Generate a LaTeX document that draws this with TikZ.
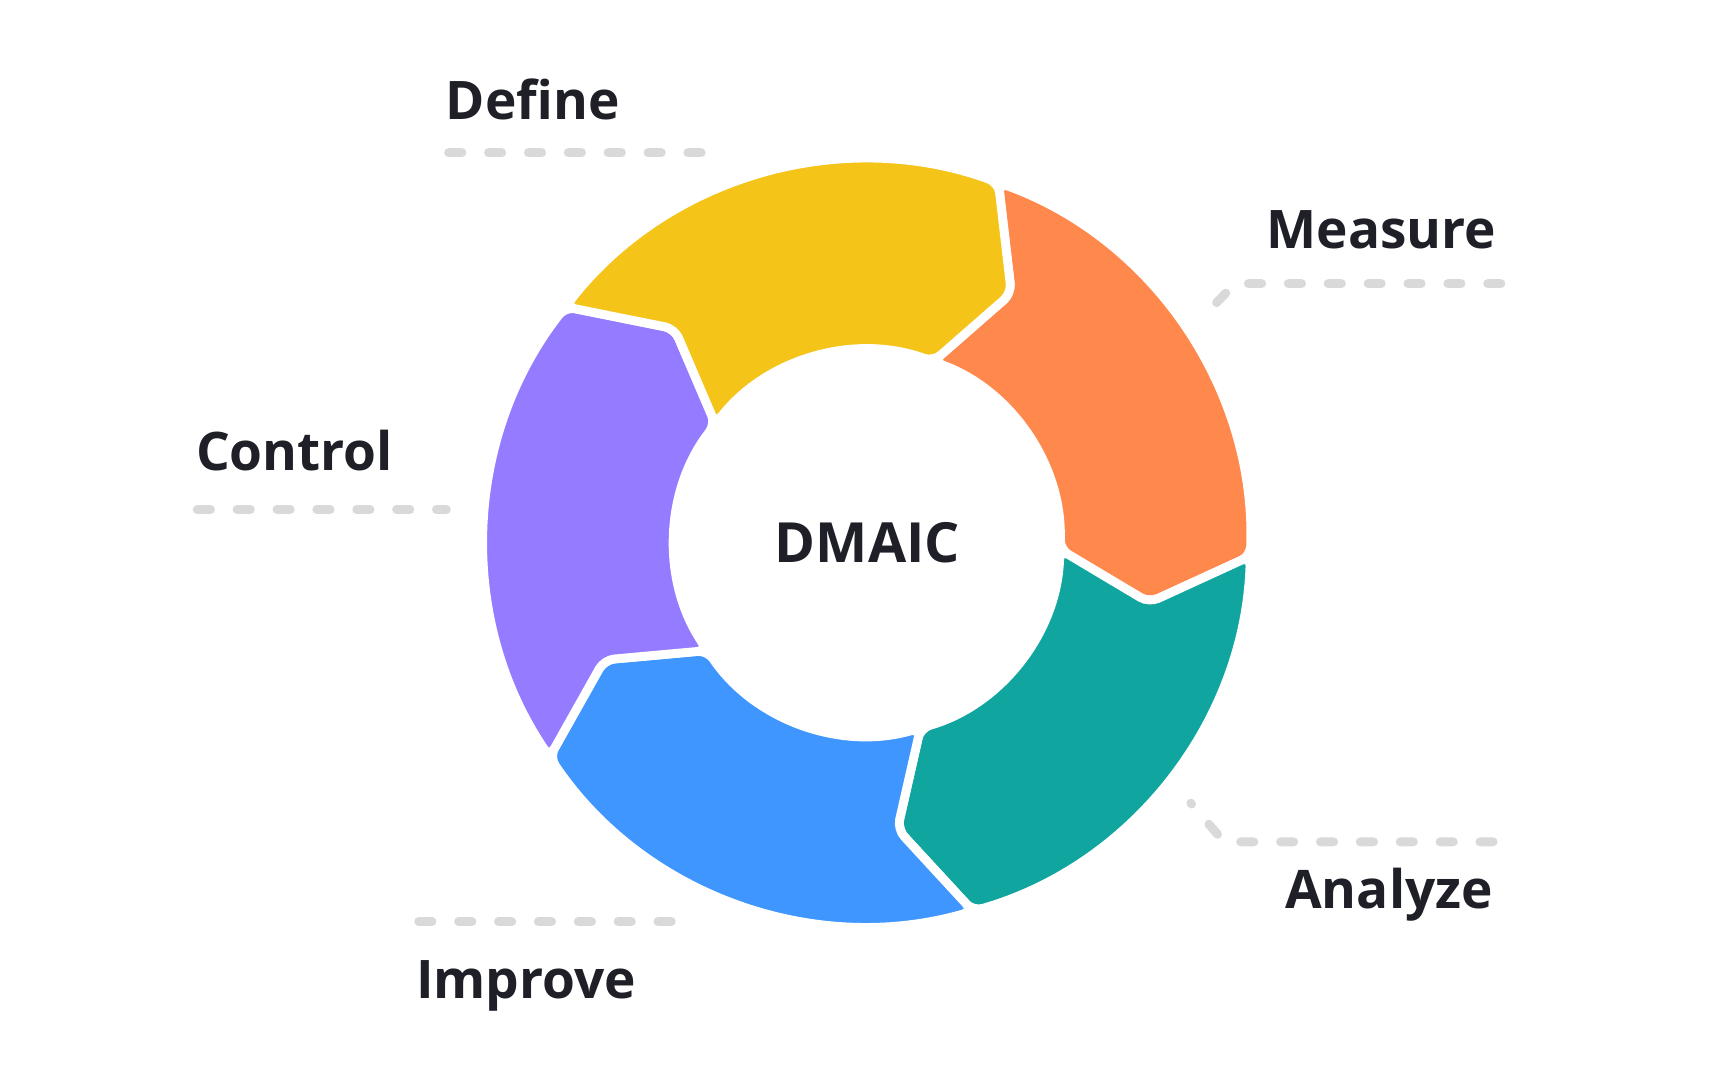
\documentclass[tikz,border=0pt]{standalone}
\usepackage{fontspec}
\setmainfont{Open Sans}
\definecolor{cdef}{HTML}{F5C419}
\definecolor{cmea}{HTML}{FF884D}
\definecolor{cana}{HTML}{10A59F}
\definecolor{cimp}{HTML}{4096FF}
\definecolor{ccon}{HTML}{957BFF}
\definecolor{ctxt}{HTML}{1F1F28}
\definecolor{cdash}{HTML}{D9D9D9}
\begin{document}
\begin{tikzpicture}[x=1pt,y=1pt,
  lbl/.style={text=ctxt,font=\fontsize{48}{58}\selectfont\bfseries},
  leader/.style={cdash,line width=8pt,line cap=round,dash pattern=on 12pt off 24pt}]
\useasboundingbox (0,0) rectangle (1560,975);
\begin{scope}[shift={(783,485)}]
\foreach \k/\c in {0/cmea,1/cana,2/cimp,3/ccon,4/cdef}{
  \pgfmathsetmacro{\ba}{70-72*\k}
  \pgfmathsetmacro{\bb}{\ba-72}
  \filldraw[fill=\c,draw=white,line width=8pt,rounded corners=9pt]
    (\ba:346) arc[start angle=\ba,end angle=\bb,radius=346]
    -- (\bb-10:260) -- (\bb:174)
    arc[start angle=\bb,end angle=\ba,radius=174]
    -- (\ba-10:260) -- cycle;
}
\end{scope}
\node[lbl,font=\fontsize{50}{60}\selectfont\bfseries] (dmaic) at (783,485) {DMAIC};
\node[lbl] (define) at (481,885) {Define};
\node[lbl] (measure) at (1247,768) {Measure};
\node[lbl] (control) at (266,568) {Control};
\node[lbl] (analyze) at (1254,167) {Analyze};
\node[lbl] (improve) at (475,85) {Improve};
\coordinate (d1) at (405,837); \coordinate (d2) at (640,837); \coordinate (d3) at (648,829);
\coordinate (m1) at (1355,719); \coordinate (m2) at (1115,719); \coordinate (m3) at (1082,685);
\coordinate (c1) at (178,515); \coordinate (c2) at (403,515);
\coordinate (a1) at (1348,215); \coordinate (a2) at (1105,215); \coordinate (a3) at (1075,250);
\coordinate (i1) at (378,143); \coordinate (i2) at (615,143); \coordinate (i3) at (623,150);
\draw[leader] (d1) -- (d2) -- (d3);
\draw[leader] (m1) -- (m2) -- (m3);
\draw[leader] (c1) -- (c2);
\draw[leader] (a1) -- (a2) -- (a3);
\draw[leader] (i1) -- (i2) -- (i3);
\end{tikzpicture}
\end{document}
